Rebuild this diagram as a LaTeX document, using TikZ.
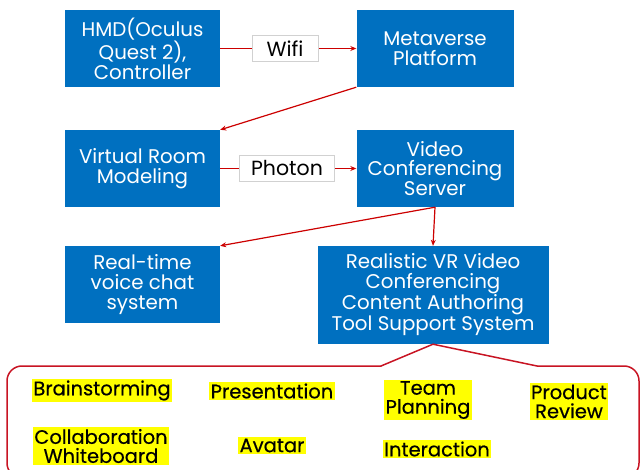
\documentclass[tikz,border=0pt]{standalone}
\usepackage{fontspec}
\setmainfont{Poppins}
\newfontfamily\labfont[FakeBold=0.4]{Poppins}
\usetikzlibrary{arrows.meta}
\definecolor{boxblue}{RGB}{0,112,192}
\definecolor{arrred}{RGB}{204,0,0}
\definecolor{bracered}{RGB}{200,20,35}
\definecolor{hl}{RGB}{255,255,0}
\begin{document}
\begin{tikzpicture}[x=1pt,y=-1pt,
  bbox/.style={fill=boxblue,text=white,align=center,inner sep=0pt,
    font=\fontsize{19.8}{19.6}\selectfont},
  lbl/.style={fill=white,draw=black!18,inner sep=0pt,minimum height=26pt,
    font=\fontsize{20.5}{20}\selectfont},
  arr/.style={draw=arrred,line width=1.2pt,-{Stealth[length=6pt,width=5pt]}},
  item/.style={fill=hl,text=black,align=center,inner sep=1.5pt,
    font=\labfont\fontsize{19.5}{19}\selectfont},
  brace/.style={draw=bracered,line width=1.5pt,line cap=round,line join=round}]
\useasboundingbox (0,0) rectangle (640,470);
\node[bbox,minimum width=155pt,minimum height=77pt] (hmd) at (142.5,48.5) {HMD(Oculus\\Quest 2),\\Controller};
\node[bbox,minimum width=157pt,minimum height=77pt] (meta) at (435,48.5) {Metaverse\\Platform};
\node[bbox,minimum width=155pt,minimum height=77pt] (vr) at (142.5,168.5) {Virtual Room\\Modeling};
\node[bbox,minimum width=157pt,minimum height=77pt] (vcs) at (435,168.5) {Video\\Conferencing\\Server};
\node[bbox,minimum width=155pt,minimum height=77pt] (rt) at (142.5,284.5) {Real-time\\voice chat\\system};
\node[bbox,minimum width=231pt,minimum height=98pt] (real) at (433,295) {Realistic VR Video\\Conferencing\\Content Authoring\\Tool Support System};

\draw[arr] (hmd.east) -- (meta.west);
\node[lbl,minimum width=66pt] (wifi) at (285,48.5) {Wifi};
\draw[arr] (vr.east) -- (vcs.west);
\node[lbl,minimum width=95pt] (photon) at (287,168) {Photon};
\draw[arr] (meta.south west) -- (vr.north east);
\draw[arr] (vcs.south) -- (rt.north east);
\draw[arr] (vcs.south) -- (real.north);

\coordinate (bl) at (381,366);
\coordinate (br) at (537,366);
\draw[brace] (bl) -- (real.south) -- (br);
\draw[brace,rounded corners=15pt] (br) -- (639,366) -- (639,478) -- (7,478) -- (7,366) -- (bl);

\node[item] (brain) at (102,390.5) {Brainstorming};
\node[item] (pres) at (272,391) {Presentation};
\node[item] (team) at (428,400) {Team\\Planning};
\node[item] (prod) at (569,401.5) {Product\\Review};
\node[item] (collab) at (101,446) {Collaboration\\Whiteboard};
\node[item] (avatar) at (272,445.5) {Avatar};
\node[item] (inter) at (437,449) {Interaction};
\end{tikzpicture}
\end{document}
